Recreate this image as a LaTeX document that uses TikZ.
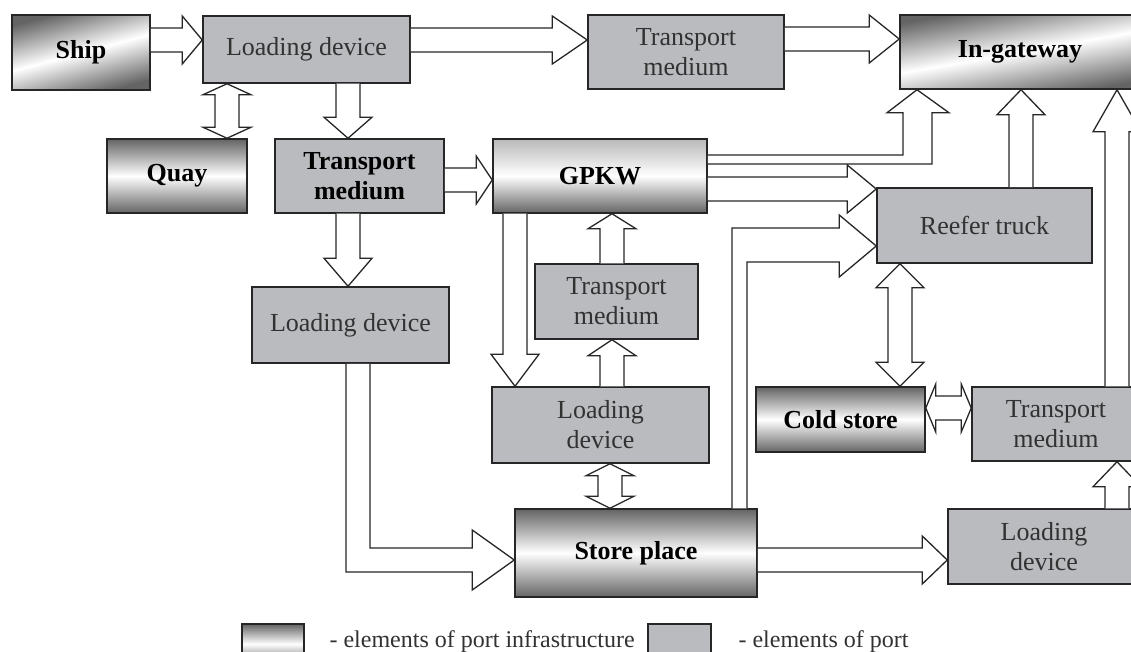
\documentclass[tikz,border=0pt]{standalone}
\usepackage{fontspec}
\setmainfont{Liberation Serif}
\usepackage{tikz}
\usetikzlibrary{calc}
\usetikzlibrary{positioning}

\definecolor{elemgray}{RGB}{186,187,191}
\definecolor{infradark}{RGB}{100,100,100}
\definecolor{labelgray}{RGB}{50,50,50}

\newcommand{\shaftw}{12pt}
\newcommand{\headw}{24pt}
% hollow block arrows: start anchor, tip anchor, axis, head length
\newcommand{\blkR}[4]{\draw[block arrow] let \p1=(#1), \p2=(#2) in
  (\x1,{#3+\shaftw}) -- ({\x2-#4},{#3+\shaftw}) -- ({\x2-#4},{#3+\headw}) -- (\x2,#3)
  -- ({\x2-#4},{#3-\headw}) -- ({\x2-#4},{#3-\shaftw}) -- (\x1,{#3-\shaftw});}
\newcommand{\blkU}[4]{\draw[block arrow] let \p1=(#1), \p2=(#2) in
  ({#3-\shaftw},\y1) -- ({#3-\shaftw},{\y2-#4}) -- ({#3-\headw},{\y2-#4}) -- (#3,\y2)
  -- ({#3+\headw},{\y2-#4}) -- ({#3+\shaftw},{\y2-#4}) -- ({#3+\shaftw},\y1);}
\newcommand{\blkD}[4]{\draw[block arrow] let \p1=(#1), \p2=(#2) in
  ({#3-\shaftw},\y1) -- ({#3-\shaftw},{\y2+#4}) -- ({#3-\headw},{\y2+#4}) -- (#3,\y2)
  -- ({#3+\headw},{\y2+#4}) -- ({#3+\shaftw},{\y2+#4}) -- ({#3+\shaftw},\y1);}
\newcommand{\blkV}[4]{\draw[block arrow] let \p1=(#1), \p2=(#2) in
  (#3,\y1) -- ({#3+\headw},{\y1-#4}) -- ({#3+\shaftw},{\y1-#4}) -- ({#3+\shaftw},{\y2+#4})
  -- ({#3+\headw},{\y2+#4}) -- (#3,\y2) -- ({#3-\headw},{\y2+#4}) -- ({#3-\shaftw},{\y2+#4})
  -- ({#3-\shaftw},{\y1-#4}) -- ({#3-\headw},{\y1-#4}) -- cycle;}
\newcommand{\blkH}[4]{\draw[block arrow] let \p1=(#1), \p2=(#2) in
  (\x1,#3) -- ({\x1+#4},{#3+\headw}) -- ({\x1+#4},{#3+\shaftw}) -- ({\x2-#4},{#3+\shaftw})
  -- ({\x2-#4},{#3+\headw}) -- (\x2,#3) -- ({\x2-#4},{#3-\headw}) -- ({\x2-#4},{#3-\shaftw})
  -- ({\x1+#4},{#3-\shaftw}) -- ({\x1+#4},{#3-\headw}) -- cycle;}

\begin{document}
\begin{tikzpicture}[x=1pt,y=1pt,
    elem node/.style={draw=black!85,line width=1.5pt,fill=elemgray,text=labelgray,
      align=center,inner sep=0pt,font=\fontsize{26}{30}\selectfont},
    infra node/.style={draw=black!85,line width=1.5pt,top color=infradark,
      bottom color=infradark,middle color=white,align=center,inner sep=0pt,
      font=\fontsize{26}{30}\selectfont\bfseries},
    dims/.style 2 args={minimum width=#1pt,minimum height=#2pt},
    block arrow/.style={draw=black!85,line width=1.3pt,fill=white,line join=miter}]

  \useasboundingbox (0,0) rectangle (1131,-652);
  \clip (0,0) rectangle (1131,-652);

  \node[infra node, dims={138}{75}, shading angle=15] (ship) at (81,-52.5) {Ship};
  \node[elem node, dims={207}{67}] (ldtop) at (306.5,-49.5) {Loading device};
  \node[elem node, dims={196}{74}] (tmtop) at (686,-52) {Transport\\medium};
  \node[infra node, dims={240}{74}, shading angle=10] (gate) at (1020,-52) {In-gateway};

  \node[infra node, dims={140}{74}] (quay) at (177,-176) {Quay};
  \node[elem node, dims={169}{74}, text=black,
        font=\fontsize{26}{30}\selectfont\bfseries] (tmquay) at (359.5,-176) {Transport\\medium};
  \node[infra node, dims={214}{74}, top color=infradark!45, middle color=white] (gpkw) at (600,-176) {GPKW};
  \node[elem node, dims={215}{75}] (reefer) at (984.5,-225.5) {Reefer truck};

  \node[elem node, dims={197}{76}] (ldleft) at (350.5,-325) {Loading device};
  \node[elem node, dims={163}{75}] (tmmid) at (616.5,-301.5) {Transport\\medium};
  \node[elem node, dims={217}{76}] (ldmid) at (600.5,-425) {Loading\\device};
  \node[infra node, dims={169}{65}] (cold) at (840.5,-419.5) {Cold store};
  \node[elem node, dims={168}{74}] (tmright) at (1056,-424) {Transport\\medium};

  \node[infra node, dims={242}{88}] (store) at (636,-553) {Store place};
  \node[elem node, dims={192}{75}] (ldright) at (1044,-546.5) {Loading\\device};

  % key
  \node[infra node, dims={62}{40}] (keyinfra) at (273,-644) {};
  \node[anchor=base west, text=labelgray, font=\fontsize{24}{28}\selectfont]
    (keyinfratext) at (326,-647) {- elements of port infrastructure};
  \node[elem node, dims={63}{40}] (keyelem) at (679.5,-644) {};
  \node[anchor=base west, text=labelgray, font=\fontsize{24}{28}\selectfont]
    (keyelemtext) at (735,-647) {- elements of port};

  % flows
  \blkR{ship.east}{ldtop.west}{-40pt}{20pt}
  \blkV{ldtop.south}{quay.north}{227pt}{11pt}
  \blkD{ldtop.south}{tmquay.north}{348pt}{21pt}
  \blkR{ldtop.east}{tmtop.west}{-40pt}{35pt}
  \blkR{tmtop.east}{gate.west}{-39pt}{30pt}
  \blkR{tmquay.east}{gpkw.west}{-180pt}{16pt}
  \blkD{tmquay.south}{ldleft.north}{348pt}{28pt}
  \draw[block arrow] let \p1=(ldleft.south), \p2=(store.west) in
    (370pt,\y1) -- (370pt,-548pt) -- ({\x2-42pt},-548pt) -- ({\x2-42pt},-530pt)
    -- (\x2,-560pt) -- ({\x2-42pt},-590pt) -- ({\x2-42pt},-572pt) -- (346pt,-572pt) -- (346pt,\y1);
  \blkD{gpkw.south}{ldmid.north}{515pt}{32pt}
  \blkU{ldmid.north}{tmmid.south}{612pt}{16pt}
  \blkU{tmmid.north}{gpkw.south}{612pt}{15pt}
  \blkV{ldmid.south}{store.north}{610pt}{12pt}
  \draw[block arrow] let \p1=(gpkw.east), \p2=(gate.south) in
    (\x1,-155pt) -- (903pt,-155pt) -- (903pt,{\y2-23pt}) -- (887pt,{\y2-23pt})
    -- (917pt,\y2) -- (949pt,{\y2-23pt}) -- (932pt,{\y2-23pt}) -- (932pt,-164pt) -- (\x1,-164pt);
  \blkR{gpkw.east}{reefer.west}{-189pt}{29pt}
  \draw[block arrow] let \p1=(store.north), \p2=(reefer.west) in
    (732pt,\y1) -- (732pt,-228pt) -- ({\x2-37pt},-228pt) -- ({\x2-37pt},-215pt)
    -- (\x2,-246pt) -- ({\x2-37pt},-277pt) -- ({\x2-37pt},-262pt) -- (747pt,-262pt) -- (747pt,\y1);
  \blkU{reefer.north}{gate.south}{1021pt}{25pt}
  \blkV{reefer.south}{cold.north}{900pt}{24pt}
  \blkH{cold.east}{tmright.west}{-408pt}{10pt}
  \blkU{tmright.north}{gate.south}{1117pt}{42pt}
  \blkU{ldright.north}{tmright.south}{1117pt}{25pt}
  \blkR{store.east}{ldright.west}{-560pt}{25pt}
\end{tikzpicture}
\end{document}
